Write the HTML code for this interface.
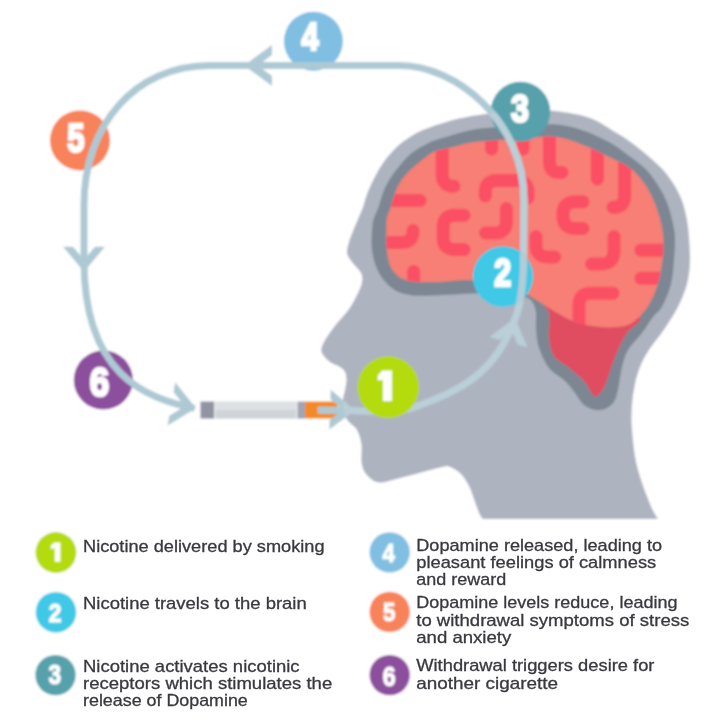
<!DOCTYPE html><html><head><meta charset="utf-8"><style>html,body{margin:0;padding:0;background:#fff;}svg{display:block}</style></head><body>
<svg width="720" height="720" viewBox="0 0 720 720">
<defs><clipPath id="hc"><path d="M520.0,110.0 C531.5,109.5 543.3,109.7 555.0,111.0 C566.7,112.3 580.0,114.5 590.0,118.0 C600.0,121.5 608.7,128.3 615.0,132.0 C621.3,135.7 622.7,136.3 627.8,140.0 C632.9,143.7 640.2,149.3 645.8,153.9 C651.3,158.5 656.7,163.2 661.1,167.8 C665.5,172.4 669.1,177.1 672.2,181.7 C675.3,186.3 677.8,191.0 679.9,195.6 C682.0,200.2 683.4,204.8 684.7,209.4 C686.0,214.0 686.8,218.7 687.5,223.3 C688.2,227.9 688.6,230.8 689.0,237.2 C689.4,243.6 690.3,254.2 690.0,262.0 C689.7,269.8 689.0,276.5 687.0,284.0 C685.0,291.5 681.8,299.5 678.0,307.0 C674.2,314.5 669.2,321.7 664.4,328.9 C659.6,336.1 653.1,343.6 649.0,350.0 C644.9,356.4 642.3,361.3 640.0,367.0 C637.7,372.7 636.3,377.7 635.0,384.0 C633.7,390.3 632.5,397.5 632.0,405.0 C631.5,412.5 631.2,418.8 632.0,429.0 C632.8,439.2 634.0,453.5 637.0,466.0 C640.0,478.5 646.5,495.2 650.0,504.0 C653.5,512.8 658.0,519.0 658.0,519.0 C658.0,519.0 483.0,519.0 483.0,519.0 C483.0,519.0 481.3,517.8 480.0,515.0 C478.7,512.2 476.8,506.8 475.0,502.0 C473.2,497.2 471.5,490.8 469.0,486.0 C466.5,481.2 463.5,476.3 460.0,473.0 C456.5,469.7 448.0,466.0 448.0,466.0 C448.0,466.0 446.2,466.0 442.0,467.0 C437.8,468.0 429.7,470.2 423.0,472.0 C416.3,473.8 409.3,475.8 402.0,477.5 C394.7,479.2 385.0,483.1 379.0,482.5 C373.0,481.9 368.9,477.4 366.0,474.0 C363.1,470.6 362.2,466.8 361.5,462.0 C360.8,457.2 362.2,450.3 361.5,445.0 C360.8,439.7 359.2,434.0 357.0,430.0 C354.8,426.0 350.2,424.0 348.0,421.0 C345.8,418.0 344.8,415.5 344.0,412.0 C343.2,408.5 342.8,403.7 343.0,400.0 C343.2,396.3 344.4,393.3 345.0,390.0 C345.6,386.7 346.5,383.0 346.5,380.0 C346.5,377.0 346.1,374.2 345.0,372.0 C343.9,369.8 342.5,368.7 340.0,367.0 C337.5,365.3 333.0,364.3 330.0,362.0 C327.0,359.7 323.2,356.0 322.0,353.0 C320.8,350.0 321.0,348.3 323.0,344.0 C325.0,339.7 329.7,332.8 334.0,327.0 C338.3,321.2 345.0,314.7 349.0,309.0 C353.0,303.3 355.8,297.5 358.0,293.0 C360.2,288.5 361.5,285.3 362.0,282.0 C362.5,278.7 362.7,276.3 361.0,273.0 C359.3,269.7 354.3,265.3 352.0,262.0 C349.7,258.7 347.5,256.3 347.0,253.0 C346.5,249.7 348.0,245.7 349.0,242.0 C350.0,238.3 351.5,234.8 353.0,231.0 C354.5,227.2 356.4,222.9 358.0,219.0 C359.6,215.1 361.4,211.5 362.8,207.8 C364.2,204.1 364.8,200.4 366.1,196.7 C367.4,193.0 368.9,189.3 370.6,185.6 C372.3,181.9 374.1,178.1 376.1,174.4 C378.1,170.7 380.2,167.0 382.8,163.3 C385.4,159.6 388.2,155.9 391.7,152.2 C395.2,148.5 398.9,144.7 403.9,141.1 C408.9,137.5 414.1,133.8 421.7,130.5 C429.3,127.2 441.5,123.3 449.4,121.0 C457.3,118.7 462.9,117.7 469.0,116.5 C475.1,115.3 477.5,115.1 486.0,114.0 C494.5,112.9 508.5,110.5 520.0,110.0Z"/></clipPath><clipPath id="cb"><path d="M386.5,222.0 C387.0,214.1 389.4,212.0 390.6,207.8 C391.8,203.6 392.6,200.4 393.9,196.7 C395.2,193.0 396.3,189.3 398.3,185.6 C400.3,181.9 402.8,178.1 406.1,174.4 C409.4,170.7 414.7,166.5 418.3,163.3 C421.9,160.2 425.1,157.6 428.0,155.5 C430.9,153.4 432.0,152.2 435.6,151.0 C439.2,149.8 443.8,149.3 449.4,148.0 C455.0,146.7 462.8,144.2 469.0,143.0 C475.2,141.8 477.9,141.7 486.4,141.0 C494.9,140.3 508.8,139.7 520.0,139.0 C531.2,138.3 543.6,135.9 553.9,136.8 C564.2,137.7 572.5,141.0 581.7,144.4 C591.0,147.8 601.3,153.0 609.4,157.0 C617.5,161.0 624.9,164.4 630.5,168.5 C636.1,172.6 639.5,177.2 643.0,181.7 C646.5,186.2 649.1,191.0 651.4,195.6 C653.7,200.2 655.4,204.8 657.0,209.4 C658.6,214.0 660.1,218.7 661.1,223.3 C662.1,227.9 662.9,231.9 663.2,237.2 C663.5,242.5 663.5,248.7 663.0,255.0 C662.5,261.3 661.3,268.8 660.0,275.0 C658.7,281.2 657.0,286.8 655.0,292.0 C653.0,297.2 650.8,301.7 648.0,306.0 C645.2,310.3 641.8,314.7 638.0,318.0 C634.2,321.3 631.3,324.5 625.0,326.0 C618.7,327.5 608.3,327.7 600.0,327.0 C591.7,326.3 583.0,324.8 575.0,322.0 C567.0,319.2 559.5,314.3 552.0,310.0 C544.5,305.7 537.8,300.3 530.0,296.0 C522.2,291.7 513.3,286.5 505.0,284.0 C496.7,281.5 487.0,281.7 480.0,281.0 C473.0,280.3 470.4,279.8 463.0,280.0 C455.6,280.2 444.8,281.9 435.6,282.0 C426.4,282.1 414.7,282.2 407.8,280.5 C400.9,278.8 397.4,276.2 394.0,272.0 C390.6,267.8 388.8,263.3 387.5,255.0 C386.2,246.7 386.0,229.9 386.5,222.0Z"/></clipPath><filter id="fb" x="-5%" y="-5%" width="110%" height="110%"><feGaussianBlur stdDeviation="0.8"/></filter><filter id="ft" x="-5%" y="-5%" width="110%" height="110%"><feGaussianBlur stdDeviation="0.4"/></filter></defs>
<g filter="url(#fb)">
<rect width="720" height="720" fill="#fff"/>
<path d="M520.0,110.0 C531.5,109.5 543.3,109.7 555.0,111.0 C566.7,112.3 580.0,114.5 590.0,118.0 C600.0,121.5 608.7,128.3 615.0,132.0 C621.3,135.7 622.7,136.3 627.8,140.0 C632.9,143.7 640.2,149.3 645.8,153.9 C651.3,158.5 656.7,163.2 661.1,167.8 C665.5,172.4 669.1,177.1 672.2,181.7 C675.3,186.3 677.8,191.0 679.9,195.6 C682.0,200.2 683.4,204.8 684.7,209.4 C686.0,214.0 686.8,218.7 687.5,223.3 C688.2,227.9 688.6,230.8 689.0,237.2 C689.4,243.6 690.3,254.2 690.0,262.0 C689.7,269.8 689.0,276.5 687.0,284.0 C685.0,291.5 681.8,299.5 678.0,307.0 C674.2,314.5 669.2,321.7 664.4,328.9 C659.6,336.1 653.1,343.6 649.0,350.0 C644.9,356.4 642.3,361.3 640.0,367.0 C637.7,372.7 636.3,377.7 635.0,384.0 C633.7,390.3 632.5,397.5 632.0,405.0 C631.5,412.5 631.2,418.8 632.0,429.0 C632.8,439.2 634.0,453.5 637.0,466.0 C640.0,478.5 646.5,495.2 650.0,504.0 C653.5,512.8 658.0,519.0 658.0,519.0 C658.0,519.0 483.0,519.0 483.0,519.0 C483.0,519.0 481.3,517.8 480.0,515.0 C478.7,512.2 476.8,506.8 475.0,502.0 C473.2,497.2 471.5,490.8 469.0,486.0 C466.5,481.2 463.5,476.3 460.0,473.0 C456.5,469.7 448.0,466.0 448.0,466.0 C448.0,466.0 446.2,466.0 442.0,467.0 C437.8,468.0 429.7,470.2 423.0,472.0 C416.3,473.8 409.3,475.8 402.0,477.5 C394.7,479.2 385.0,483.1 379.0,482.5 C373.0,481.9 368.9,477.4 366.0,474.0 C363.1,470.6 362.2,466.8 361.5,462.0 C360.8,457.2 362.2,450.3 361.5,445.0 C360.8,439.7 359.2,434.0 357.0,430.0 C354.8,426.0 350.2,424.0 348.0,421.0 C345.8,418.0 344.8,415.5 344.0,412.0 C343.2,408.5 342.8,403.7 343.0,400.0 C343.2,396.3 344.4,393.3 345.0,390.0 C345.6,386.7 346.5,383.0 346.5,380.0 C346.5,377.0 346.1,374.2 345.0,372.0 C343.9,369.8 342.5,368.7 340.0,367.0 C337.5,365.3 333.0,364.3 330.0,362.0 C327.0,359.7 323.2,356.0 322.0,353.0 C320.8,350.0 321.0,348.3 323.0,344.0 C325.0,339.7 329.7,332.8 334.0,327.0 C338.3,321.2 345.0,314.7 349.0,309.0 C353.0,303.3 355.8,297.5 358.0,293.0 C360.2,288.5 361.5,285.3 362.0,282.0 C362.5,278.7 362.7,276.3 361.0,273.0 C359.3,269.7 354.3,265.3 352.0,262.0 C349.7,258.7 347.5,256.3 347.0,253.0 C346.5,249.7 348.0,245.7 349.0,242.0 C350.0,238.3 351.5,234.8 353.0,231.0 C354.5,227.2 356.4,222.9 358.0,219.0 C359.6,215.1 361.4,211.5 362.8,207.8 C364.2,204.1 364.8,200.4 366.1,196.7 C367.4,193.0 368.9,189.3 370.6,185.6 C372.3,181.9 374.1,178.1 376.1,174.4 C378.1,170.7 380.2,167.0 382.8,163.3 C385.4,159.6 388.2,155.9 391.7,152.2 C395.2,148.5 398.9,144.7 403.9,141.1 C408.9,137.5 414.1,133.8 421.7,130.5 C429.3,127.2 441.5,123.3 449.4,121.0 C457.3,118.7 462.9,117.7 469.0,116.5 C475.1,115.3 477.5,115.1 486.0,114.0 C494.5,112.9 508.5,110.5 520.0,110.0Z" fill="#aeb3c0"/>
<path d="M372.5,225.0 C373.1,219.0 374.5,216.9 375.5,214.0 C376.5,211.1 377.3,210.7 378.3,207.8 C379.3,204.9 380.4,200.4 381.7,196.7 C383.0,193.0 384.2,189.3 386.1,185.6 C388.0,181.9 390.2,178.1 392.8,174.4 C395.4,170.7 398.4,167.0 401.7,163.3 C405.0,159.6 407.6,155.9 412.8,152.2 C418.0,148.5 426.7,143.8 432.8,141.1 C438.9,138.4 443.4,137.8 449.4,136.0 C455.4,134.2 462.8,131.8 469.0,130.5 C475.2,129.2 477.9,128.7 486.4,128.0 C494.9,127.3 508.8,127.1 520.0,126.5 C531.2,125.9 543.6,123.7 553.9,124.3 C564.2,124.9 572.5,127.0 581.7,129.9 C590.9,132.8 601.5,138.0 609.0,142.0 C616.5,146.0 620.5,149.6 626.4,153.9 C632.3,158.2 639.5,163.2 644.4,167.8 C649.3,172.4 652.4,177.1 655.6,181.7 C658.9,186.3 661.6,191.0 663.9,195.6 C666.2,200.2 667.9,204.8 669.4,209.4 C670.9,214.0 672.0,218.7 672.9,223.3 C673.8,227.9 674.8,231.1 675.0,237.2 C675.2,243.3 674.7,252.2 674.0,260.0 C673.3,267.8 673.0,276.2 671.0,284.0 C669.0,291.8 665.0,301.2 662.0,306.7 C659.0,312.2 656.3,312.6 653.0,317.0 C649.7,321.4 646.2,327.5 642.0,333.0 C637.8,338.5 631.3,344.3 628.0,350.0 C624.7,355.7 623.5,361.3 622.0,367.0 C620.5,372.7 620.2,378.5 619.0,384.0 C617.8,389.5 617.0,396.0 615.0,400.0 C613.0,404.0 610.2,406.3 607.0,408.0 C603.8,409.7 599.8,410.5 596.0,410.0 C592.2,409.5 587.5,407.8 584.0,405.0 C580.5,402.2 578.2,397.0 575.0,393.0 C571.8,389.0 569.3,385.2 565.0,381.0 C560.7,376.8 553.3,373.5 549.0,368.0 C544.7,362.5 541.2,354.5 539.0,348.0 C536.8,341.5 536.6,335.3 536.0,329.0 C535.4,322.7 536.9,315.2 535.6,310.0 C534.3,304.8 532.3,300.2 528.0,298.0 C523.7,295.8 518.0,297.8 510.0,297.0 C502.0,296.2 492.5,293.8 480.0,293.5 C467.5,293.2 446.7,295.2 435.0,295.5 C423.3,295.8 417.1,296.2 410.0,295.0 C402.9,293.8 397.8,292.3 392.5,288.5 C387.2,284.7 381.9,278.4 378.5,272.0 C375.1,265.6 373.0,257.8 372.0,250.0 C371.0,242.2 371.9,231.0 372.5,225.0Z" fill="#7b8793"/>
<path d="M540.0,300.0 C538.2,301.3 547.5,306.7 549.0,313.0 C550.5,319.3 548.2,330.8 549.0,338.0 C549.8,345.2 550.8,351.2 554.0,356.0 C557.2,360.8 563.0,362.8 568.0,367.0 C573.0,371.2 579.7,376.2 584.0,381.0 C588.3,385.8 591.2,394.2 594.0,396.0 C596.8,397.8 599.0,394.2 601.0,392.0 C603.0,389.8 604.2,387.2 606.0,383.0 C607.8,378.8 609.5,372.5 611.5,367.0 C613.5,361.5 615.4,355.7 618.0,350.0 C620.6,344.3 623.3,338.3 627.0,333.0 C630.7,327.7 644.5,320.2 640.0,318.0 C635.5,315.8 613.3,322.2 600.0,320.0 C586.7,317.8 570.0,308.3 560.0,305.0 C550.0,301.7 541.8,298.7 540.0,300.0Z" fill="#e04e60"/>
<path d="M386.5,222.0 C387.0,214.1 389.4,212.0 390.6,207.8 C391.8,203.6 392.6,200.4 393.9,196.7 C395.2,193.0 396.3,189.3 398.3,185.6 C400.3,181.9 402.8,178.1 406.1,174.4 C409.4,170.7 414.7,166.5 418.3,163.3 C421.9,160.2 425.1,157.6 428.0,155.5 C430.9,153.4 432.0,152.2 435.6,151.0 C439.2,149.8 443.8,149.3 449.4,148.0 C455.0,146.7 462.8,144.2 469.0,143.0 C475.2,141.8 477.9,141.7 486.4,141.0 C494.9,140.3 508.8,139.7 520.0,139.0 C531.2,138.3 543.6,135.9 553.9,136.8 C564.2,137.7 572.5,141.0 581.7,144.4 C591.0,147.8 601.3,153.0 609.4,157.0 C617.5,161.0 624.9,164.4 630.5,168.5 C636.1,172.6 639.5,177.2 643.0,181.7 C646.5,186.2 649.1,191.0 651.4,195.6 C653.7,200.2 655.4,204.8 657.0,209.4 C658.6,214.0 660.1,218.7 661.1,223.3 C662.1,227.9 662.9,231.9 663.2,237.2 C663.5,242.5 663.5,248.7 663.0,255.0 C662.5,261.3 661.3,268.8 660.0,275.0 C658.7,281.2 657.0,286.8 655.0,292.0 C653.0,297.2 650.8,301.7 648.0,306.0 C645.2,310.3 641.8,314.7 638.0,318.0 C634.2,321.3 631.3,324.5 625.0,326.0 C618.7,327.5 608.3,327.7 600.0,327.0 C591.7,326.3 583.0,324.8 575.0,322.0 C567.0,319.2 559.5,314.3 552.0,310.0 C544.5,305.7 537.8,300.3 530.0,296.0 C522.2,291.7 513.3,286.5 505.0,284.0 C496.7,281.5 487.0,281.7 480.0,281.0 C473.0,280.3 470.4,279.8 463.0,280.0 C455.6,280.2 444.8,281.9 435.6,282.0 C426.4,282.1 414.7,282.2 407.8,280.5 C400.9,278.8 397.4,276.2 394.0,272.0 C390.6,267.8 388.8,263.3 387.5,255.0 C386.2,246.7 386.0,229.9 386.5,222.0Z" fill="#f77f75"/>
<g clip-path="url(#cb)" fill="none" stroke="#fb5064" stroke-width="13" stroke-linecap="round" stroke-linejoin="round">
<path d="M442.2,140 L442.2,174 Q442.2,186.25 454,186.25"/>
<path d="M491.6,135 L491.6,149"/>
<path d="M523,135 L523,149"/>
<path d="M380,200.5 L420,200.5"/>
<path d="M485.3,196 L485.3,192 Q485.3,180.5 497,180.5 L516,180.5 Q528,180.5 528,192 L528,198"/>
<path d="M506.4,208.5 L506.4,221 Q506.4,233 495,233 L485.5,233"/>
<path d="M464,215.3 L455,215.3 Q443.2,215.3 443.2,227 L443.2,238 Q443.2,249.6 455,249.6 L464,249.6"/>
<path d="M413,230.5 L413,231 Q413,242.4 402,242.4 L380,242.4"/>
<path d="M413.7,271.5 L413.7,295"/>
<path d="M549.5,130 L549.5,161 Q549.5,172.4 559,172.4 L562,172.4"/>
<path d="M597.4,140 L597.4,179"/>
<path d="M624.6,150 L624.6,196 Q624.6,207.3 613,207.3"/>
<path d="M583,201.8 L576,201.8 Q563,201.8 563,214 L563,216 Q563,228.5 576,228.5 L583,228.5"/>
<path d="M536,236.5 L536,245 Q536,257 548,257 L554.7,257"/>
<path d="M614,236.5 L614,251 Q614,264 601,264 L591.6,264"/>
<path d="M641,250.2 L675,250.2"/>
<path d="M641,278.3 L675,278.3"/>
<path d="M613,293.2 L591,293.2 Q579,293.2 579,305 L579,335"/>
</g>
<rect x="200.4" y="401.5" width="13.9" height="17.1" fill="#9094a3"/>
<rect x="214.3" y="401.5" width="83.2" height="17.1" fill="#e6e9ec"/>
<rect x="215.6" y="401.5" width="80.4" height="8.6" fill="#dde1e4"/>
<rect x="215.6" y="410.1" width="80.4" height="8.5" fill="#d0d4d8"/>
<rect x="297.5" y="401.5" width="7.6" height="17.1" fill="#a0a4b3"/>
<path d="M305,401.5 H337.8 V407.6 H317.8 V413.2 H337.8 V418.6 H305Z" fill="#f38a26"/>
<circle cx="313.4" cy="41.2" r="29.5" fill="#80bfe2"/><text transform="translate(301.58,49.90) scale(0.783,1)" font-family="Liberation Sans" font-weight="bold" font-size="39.28" fill="#fff" stroke="#fff" stroke-width="2.6">4</text>
<circle cx="80" cy="140.4" r="30" fill="#f8825a"/><text transform="translate(67.17,152.29) scale(0.764,1)" font-family="Liberation Sans" font-weight="bold" font-size="40.57" fill="#fff" stroke="#fff" stroke-width="2.6">5</text>
<circle cx="520.5" cy="111.6" r="29.8" fill="#57a1ab"/><text transform="translate(510.96,121.51) scale(0.816,1)" font-family="Liberation Sans" font-weight="bold" font-size="39.44" fill="#fff" stroke="#fff" stroke-width="2.6">3</text>
<circle cx="103.35" cy="380" r="29.6" fill="#8c509d"/><text transform="translate(89.80,395.79) scale(0.857,1)" font-family="Liberation Sans" font-weight="bold" font-size="40.85" fill="#fff" stroke="#fff" stroke-width="2.6">6</text>
<g>
<path d="M194.5,408.4 C145.6,398 84,375 84,260 L84,205 C84,125 135,65.5 210,65.5 L400,65.5 C455,65.5 524,120 524,200 L523.5,262 C523,290 520,306 515,319 C494.5,375.4 459,390.9 412,408 C396,413.8 370,410.5 318,410" fill="none" stroke="#adc9d3" stroke-width="7"/>
<polygon points="244.0,65.4 272.0,44.9 272.0,54.9 257.7,65.4 272.0,75.9 272.0,85.9" fill="#adc9d3"/>
<polygon points="84.0,271.7 63.0,246.7 73.0,246.7 84.0,259.8 95.0,246.7 105.0,246.7" fill="#adc9d3"/>
<polygon points="196.0,408.3 167.6,425.6 169.3,415.8 184.8,406.3 173.5,392.1 175.2,382.3" fill="#adc9d3"/>
<polygon points="355.0,410.5 329.3,429.6 329.6,420.1 343.1,410.1 330.4,399.1 330.7,389.6" fill="#adc9d3"/>
<polygon points="515.0,318.0 527.4,347.2 517.7,344.6 511.7,330.4 499.4,339.7 489.7,337.1" fill="#adc9d3"/>
</g>
<g clip-path="url(#hc)">
<path d="M194.5,408.4 C145.6,398 84,375 84,260 L84,205 C84,125 135,65.5 210,65.5 L400,65.5 C455,65.5 524,120 524,200 L523.5,262 C523,290 520,306 515,319 C494.5,375.4 459,390.9 412,408 C396,413.8 370,410.5 318,410" fill="none" stroke="#bacfd8" stroke-width="7"/>
<polygon points="244.0,65.4 272.0,44.9 272.0,54.9 257.7,65.4 272.0,75.9 272.0,85.9" fill="#bacfd8"/>
<polygon points="84.0,271.7 63.0,246.7 73.0,246.7 84.0,259.8 95.0,246.7 105.0,246.7" fill="#bacfd8"/>
<polygon points="196.0,408.3 167.6,425.6 169.3,415.8 184.8,406.3 173.5,392.1 175.2,382.3" fill="#bacfd8"/>
<polygon points="355.0,410.5 329.3,429.6 329.6,420.1 343.1,410.1 330.4,399.1 330.7,389.6" fill="#bacfd8"/>
<polygon points="515.0,318.0 527.4,347.2 517.7,344.6 511.7,330.4 499.4,339.7 489.7,337.1" fill="#bacfd8"/>
</g>
<circle cx="503" cy="276.5" r="30.2" fill="#40c9e6"/><text transform="translate(494.19,286.40) scale(0.771,1)" font-family="Liberation Sans" font-weight="bold" font-size="39.43" fill="#fff" stroke="#fff" stroke-width="2.6">2</text>
<circle cx="388.25" cy="387.25" r="30.9" fill="#b4db0a"/><path d="M382.45,370.50 H391.90 V401.10 H383.02 V379.68 L377.80,380.60 V375.40 Z" fill="#fff"/>
<clipPath id="c2"><circle cx="503" cy="276.5" r="30.2"/></clipPath><path d="M194.5,408.4 C145.6,398 84,375 84,260 L84,205 C84,125 135,65.5 210,65.5 L400,65.5 C455,65.5 524,120 524,200 L523.5,262 C523,290 520,306 515,319 C494.5,375.4 459,390.9 412,408 C396,413.8 370,410.5 318,410" fill="none" stroke="#b4ccd6" stroke-width="7" clip-path="url(#c2)"/>
<circle cx="55.95" cy="552.5" r="20.4" fill="#b4db0a"/><path d="M54.35,542.60 H60.40 V561.70 H54.74 V548.33 L50.80,548.90 V545.66 Z" fill="#fff"/>
<circle cx="55.95" cy="612.2" r="20.3" fill="#40c9e6"/><text transform="translate(48.71,622.25) scale(0.870,1)" font-family="Liberation Sans" font-weight="bold" font-size="26.29" fill="#fff" stroke="#fff" stroke-width="1.1">2</text>
<circle cx="55.5" cy="675.1" r="20.2" fill="#57a1ab"/><text transform="translate(48.49,684.28) scale(0.843,1)" font-family="Liberation Sans" font-weight="bold" font-size="27.04" fill="#fff" stroke="#fff" stroke-width="1.1">3</text>
<circle cx="389.7" cy="552.35" r="20.2" fill="#80bfe2"/><text transform="translate(382.60,562.15) scale(0.835,1)" font-family="Liberation Sans" font-weight="bold" font-size="26.67" fill="#fff" stroke="#fff" stroke-width="1.1">4</text>
<circle cx="389.7" cy="611.9" r="20.2" fill="#f8825a"/><text transform="translate(383.08,621.39) scale(0.849,1)" font-family="Liberation Sans" font-weight="bold" font-size="26.14" fill="#fff" stroke="#fff" stroke-width="1.1">5</text>
<circle cx="389.7" cy="675.1" r="20.2" fill="#8c509d"/><text transform="translate(382.82,685.78) scale(0.842,1)" font-family="Liberation Sans" font-weight="bold" font-size="27.46" fill="#fff" stroke="#fff" stroke-width="1.1">6</text>
</g><g filter="url(#ft)">
<text x="83" y="552" font-family="Liberation Sans" font-size="17" fill="#38383e" stroke="#38383e" stroke-width="0.3" textLength="241.5" lengthAdjust="spacingAndGlyphs">Nicotine delivered by smoking</text>
<text x="83" y="609" font-family="Liberation Sans" font-size="17" fill="#38383e" stroke="#38383e" stroke-width="0.3" textLength="223.7" lengthAdjust="spacingAndGlyphs">Nicotine travels to the brain</text>
<text x="83" y="672" font-family="Liberation Sans" font-size="17" fill="#38383e" stroke="#38383e" stroke-width="0.3" textLength="216.6" lengthAdjust="spacingAndGlyphs">Nicotine activates nicotinic</text>
<text x="83" y="689" font-family="Liberation Sans" font-size="17" fill="#38383e" stroke="#38383e" stroke-width="0.3" textLength="249.2" lengthAdjust="spacingAndGlyphs">receptors which stimulates the</text>
<text x="83" y="706" font-family="Liberation Sans" font-size="17" fill="#38383e" stroke="#38383e" stroke-width="0.3" textLength="164.8" lengthAdjust="spacingAndGlyphs">release of Dopamine</text>
<text x="416.25" y="550.5" font-family="Liberation Sans" font-size="17" fill="#38383e" stroke="#38383e" stroke-width="0.3" textLength="245.8" lengthAdjust="spacingAndGlyphs">Dopamine released, leading to</text>
<text x="416.25" y="567.5" font-family="Liberation Sans" font-size="17" fill="#38383e" stroke="#38383e" stroke-width="0.3" textLength="240.0" lengthAdjust="spacingAndGlyphs">pleasant feelings of calmness</text>
<text x="416.25" y="585" font-family="Liberation Sans" font-size="17" fill="#38383e" stroke="#38383e" stroke-width="0.3" textLength="90.0" lengthAdjust="spacingAndGlyphs">and reward</text>
<text x="416.25" y="608.1" font-family="Liberation Sans" font-size="17" fill="#38383e" stroke="#38383e" stroke-width="0.3" textLength="261.2" lengthAdjust="spacingAndGlyphs">Dopamine levels reduce, leading</text>
<text x="416.25" y="626" font-family="Liberation Sans" font-size="17" fill="#38383e" stroke="#38383e" stroke-width="0.3" textLength="273.0" lengthAdjust="spacingAndGlyphs">to withdrawal symptoms of stress</text>
<text x="416.25" y="642.9" font-family="Liberation Sans" font-size="17" fill="#38383e" stroke="#38383e" stroke-width="0.3" textLength="95.0" lengthAdjust="spacingAndGlyphs">and anxiety</text>
<text x="416.25" y="671.25" font-family="Liberation Sans" font-size="17" fill="#38383e" stroke="#38383e" stroke-width="0.3" textLength="238.2" lengthAdjust="spacingAndGlyphs">Withdrawal triggers desire for</text>
<text x="416.25" y="688.75" font-family="Liberation Sans" font-size="17" fill="#38383e" stroke="#38383e" stroke-width="0.3" textLength="141.8" lengthAdjust="spacingAndGlyphs">another cigarette</text>
</g>
</svg></body></html>
